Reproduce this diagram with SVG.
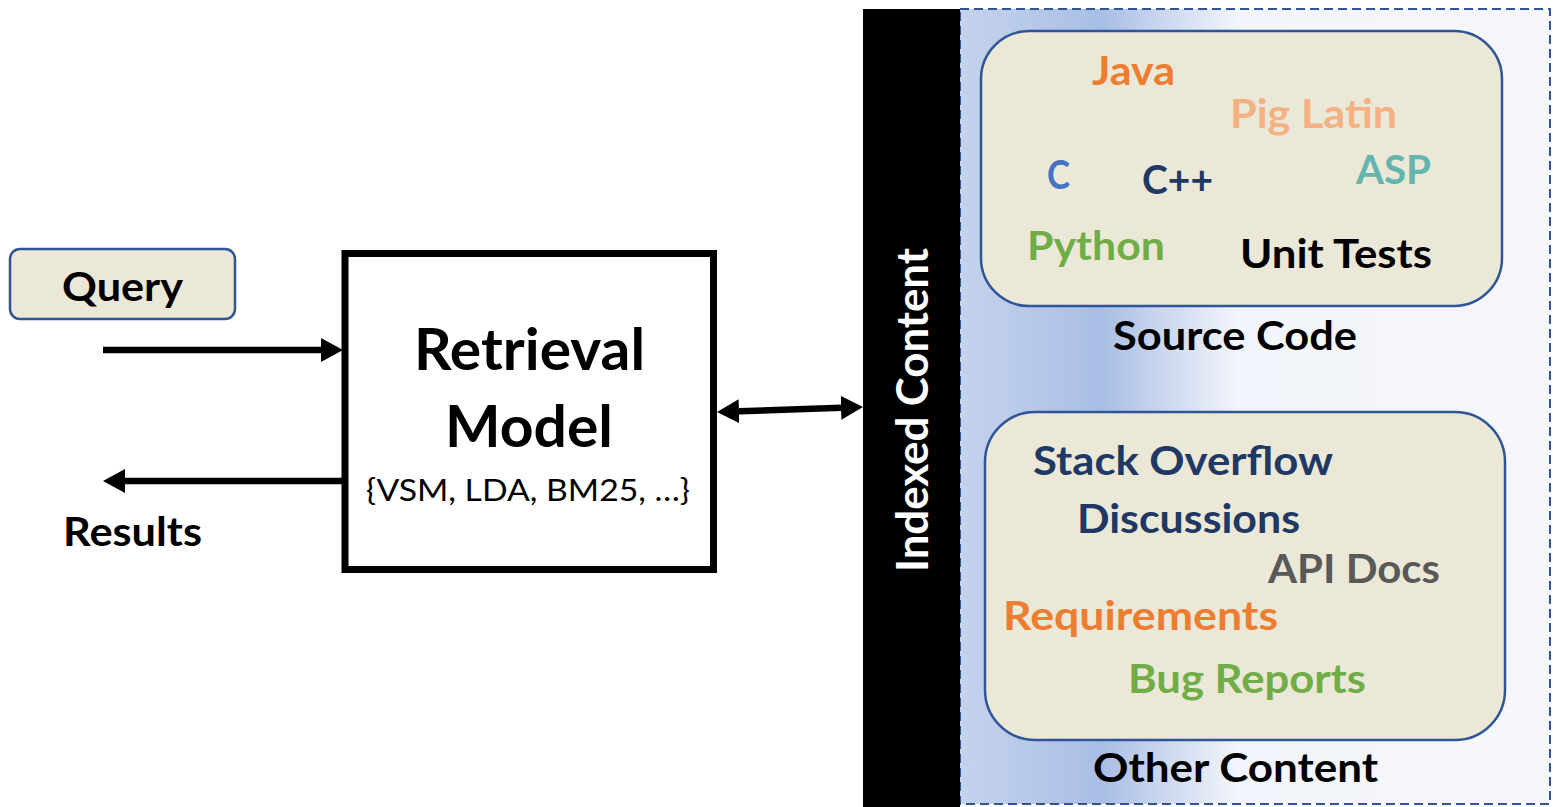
<svg xmlns="http://www.w3.org/2000/svg" width="1553" height="807" viewBox="0 0 1553 807">
  <style>
    text { font-family: Lato, "Open Sans", "Liberation Sans", sans-serif; font-weight: 700; }
    .box { fill: #ECE8D7; stroke: #2F5597; stroke-width: 2.5; }
    .lbl { font-size: 41px; }
    .wire { stroke: #000; stroke-width: 6.5; fill: none; }
  </style>
  <defs>
    <linearGradient id="panelFill" x1="0" y1="0" x2="1" y2="0">
      <stop offset="0" stop-color="#C5D3EC"/>
      <stop offset="0.24" stop-color="#A9BEE5"/>
      <stop offset="0.47" stop-color="#F2F5FB"/>
      <stop offset="1" stop-color="#F6F7FC"/>
    </linearGradient>
    <marker id="head" viewBox="0 0 22 24" refX="0" refY="12" markerWidth="22" markerHeight="24" markerUnits="userSpaceOnUse" orient="auto-start-reverse">
      <path d="M0,0 L22,12 L0,24 z" fill="#000"/>
    </marker>
  </defs>

  <rect width="1553" height="807" fill="#FFFFFF"/>

  <!-- indexed content panel -->
  <g id="content-panel">
    <rect x="960" y="9" width="590" height="795" fill="url(#panelFill)" stroke="#2F5597" stroke-width="2" stroke-dasharray="9,5"/>
    <rect x="863" y="9" width="97" height="798" fill="#000"/>
    <text transform="translate(928,572) rotate(-90)" font-size="44" fill="#FFFFFF" textLength="324" lengthAdjust="spacingAndGlyphs">Indexed Content</text>
  </g>

  <g id="query">
    <rect class="box" x="10" y="249" width="225" height="70" rx="10"/>
    <text x="62" y="301" font-size="40" fill="#000" textLength="121" lengthAdjust="spacingAndGlyphs">Query</text>
  </g>

  <g id="results">
    <text x="63" y="546" font-size="41" fill="#000" textLength="139" lengthAdjust="spacingAndGlyphs">Results</text>
  </g>

  <g id="retrieval-model">
    <rect x="345" y="253.5" width="368.5" height="316" fill="#FFFFFF" stroke="#000" stroke-width="7"/>
    <text x="414" y="370" font-size="57" fill="#000" textLength="231" lengthAdjust="spacingAndGlyphs">Retrieval</text>
    <text x="445" y="447" font-size="57" fill="#000" textLength="168" lengthAdjust="spacingAndGlyphs">Model</text>
    <text x="366" y="501" font-size="30" style="font-weight:400" fill="#000" textLength="324" lengthAdjust="spacingAndGlyphs">{VSM, LDA, BM25, …}</text>
  </g>

  <g id="source-code">
    <rect class="box" x="981" y="31" width="521" height="275" rx="48"/>
    <text class="lbl" x="1092" y="85" fill="#ED7D31" textLength="83" lengthAdjust="spacingAndGlyphs">Java</text>
    <text class="lbl" x="1230" y="128" fill="#F4B183" textLength="167" lengthAdjust="spacingAndGlyphs">Pig Latin</text>
    <text class="lbl" x="1047" y="189" fill="#4472C4" textLength="23" lengthAdjust="spacingAndGlyphs">C</text>
    <text class="lbl" x="1142" y="194" fill="#203864" textLength="71" lengthAdjust="spacingAndGlyphs">C++</text>
    <text class="lbl" x="1356" y="184" fill="#63B5AE" textLength="75" lengthAdjust="spacingAndGlyphs">ASP</text>
    <text class="lbl" x="1027" y="260" fill="#70AD47" textLength="138" lengthAdjust="spacingAndGlyphs">Python</text>
    <text class="lbl" x="1240" y="268" fill="#000" textLength="192" lengthAdjust="spacingAndGlyphs">Unit Tests</text>
    <text class="lbl" x="1113" y="350" fill="#000" textLength="244" lengthAdjust="spacingAndGlyphs">Source Code</text>
  </g>

  <g id="other-content">
    <rect class="box" x="985" y="412" width="520" height="328" rx="50"/>
    <text class="lbl" x="1033" y="475" fill="#203864" textLength="300" lengthAdjust="spacingAndGlyphs">Stack Overflow</text>
    <text class="lbl" x="1077" y="533" fill="#203864" textLength="223" lengthAdjust="spacingAndGlyphs">Discussions</text>
    <text class="lbl" x="1268" y="583" fill="#595959" textLength="172" lengthAdjust="spacingAndGlyphs">API Docs</text>
    <text class="lbl" x="1003" y="630" fill="#ED7D31" textLength="275" lengthAdjust="spacingAndGlyphs">Requirements</text>
    <text class="lbl" x="1128" y="693" fill="#70AD47" textLength="238" lengthAdjust="spacingAndGlyphs">Bug Reports</text>
    <text class="lbl" x="1093" y="782" fill="#000" textLength="285" lengthAdjust="spacingAndGlyphs">Other Content</text>
  </g>

  <!-- arrows between query/results, the model and the index -->
  <g id="connectors">
    <line class="wire" x1="103" y1="350" x2="321" y2="350" marker-end="url(#head)"/>
    <line class="wire" x1="344" y1="481" x2="125" y2="481" marker-end="url(#head)"/>
    <line class="wire" x1="739" y1="411.3" x2="841" y2="407.7" marker-start="url(#head)" marker-end="url(#head)"/>
  </g>
</svg>
